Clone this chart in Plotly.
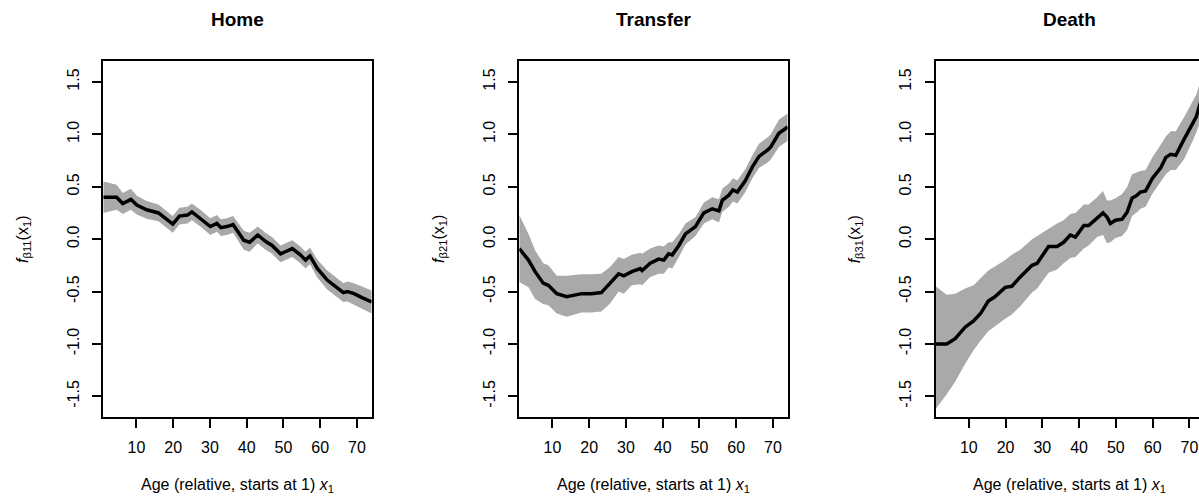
import plotly.graph_objects as go

# ---- data -------------------------------------------------------------
panel_titles = ["Home", "Transfer", "Death"]
y_labels = ["<i>f</i><sub>β11</sub>(x<sub>1</sub>)",
            "<i>f</i><sub>β21</sub>(x<sub>1</sub>)",
            "<i>f</i><sub>β31</sub>(x<sub>1</sub>)"]
x_title = "Age (relative, starts at 1) <i>x</i><sub>1</sub>"

x_tickvals = [10, 20, 30, 40, 50, 60, 70]
y_tickvals = [-1.5, -1.0, -0.5, 0.0, 0.5, 1.0, 1.5]
y_ticktext = ["-1.5", "-1.0", "-0.5", "0.0", "0.5", "1.0", "1.5"]

# Home
home_age = [1, 4.6, 6.3, 8.5, 10.1, 12.8, 16, 19.9, 21.7, 23.9, 25.1, 27.4,
            30.1, 31.9, 33, 34.6, 36.3, 39.2, 40.8, 43, 45.1, 46.9, 49.2,
            50.5, 52.4, 54.6, 56, 57.2, 59.2, 61.9, 64.2, 66.3, 67.4, 69.2,
            71.5, 74]
home_fit = [0.40, 0.40, 0.34, 0.38, 0.325, 0.28, 0.25, 0.143, 0.22, 0.23,
            0.26, 0.20, 0.12, 0.15, 0.11, 0.12, 0.14, -0.01, -0.03, 0.04,
            -0.02, -0.06, -0.14, -0.12, -0.09, -0.15, -0.20, -0.16, -0.28,
            -0.39, -0.455, -0.51, -0.50, -0.52, -0.56, -0.60]
home_lower = [0.25, 0.28, 0.24, 0.28, 0.235, 0.195, 0.17, 0.06, 0.14, 0.15,
              0.18, 0.12, 0.04, 0.07, 0.03, 0.04, 0.06, -0.10, -0.12, -0.04,
              -0.10, -0.14, -0.22, -0.20, -0.17, -0.23, -0.28, -0.24, -0.365,
              -0.48, -0.545, -0.60, -0.595, -0.62, -0.665, -0.71]
home_upper = [0.55, 0.52, 0.44, 0.48, 0.415, 0.365, 0.33, 0.22, 0.30, 0.31,
              0.34, 0.28, 0.20, 0.23, 0.19, 0.20, 0.22, 0.08, 0.06, 0.12,
              0.06, 0.02, -0.06, -0.04, -0.01, -0.07, -0.12, -0.08, -0.195,
              -0.30, -0.365, -0.42, -0.405, -0.42, -0.455, -0.49]

# Transfer
transfer_age = [1, 3.5, 5.3, 7.5, 8.9, 11.2, 13.9, 15.7, 18, 20.7, 23.3, 25.7,
                28, 29.4, 31.6, 33.9, 34.4, 36.6, 38.9, 40.3, 41.6, 42.6,
                44.4, 46.2, 48.9, 51.2, 53.5, 55.3, 56.2, 58, 59.1, 60.3,
                62.5, 64.4, 66.2, 68.5, 69.4, 71.6, 74]
transfer_fit = [-0.09, -0.20, -0.31, -0.42, -0.44, -0.52, -0.55, -0.535,
                -0.52, -0.52, -0.51, -0.42, -0.33, -0.35, -0.31, -0.28, -0.30,
                -0.23, -0.19, -0.20, -0.14, -0.15, -0.06, 0.05, 0.12, 0.25,
                0.29, 0.27, 0.37, 0.42, 0.47, 0.45, 0.56, 0.69, 0.79, 0.85,
                0.88, 1.01, 1.07]
transfer_lower = [-0.41, -0.46, -0.57, -0.62, -0.63, -0.71, -0.74, -0.72,
                  -0.70, -0.70, -0.69, -0.615, -0.50, -0.52, -0.44, -0.43,
                  -0.44, -0.36, -0.33, -0.33, -0.27, -0.28, -0.17, -0.05,
                  0.03, 0.15, 0.19, 0.16, 0.26, 0.31, 0.36, 0.34, 0.45, 0.58,
                  0.68, 0.73, 0.76, 0.88, 0.94]
transfer_upper = [0.23, 0.05, -0.105, -0.23, -0.25, -0.35, -0.35, -0.345,
                  -0.335, -0.335, -0.33, -0.265, -0.17, -0.19, -0.15, -0.13,
                  -0.14, -0.09, -0.06, -0.07, -0.03, -0.03, 0.05, 0.15, 0.21,
                  0.35, 0.40, 0.38, 0.48, 0.53, 0.58, 0.56, 0.67, 0.80, 0.91,
                  0.97, 1.00, 1.14, 1.20]

# Death
death_age = [1, 4, 6.3, 9, 11.3, 13.2, 15.3, 17.1, 19.9, 21.7, 24, 27.2,
             28.6, 31.7, 34, 35.8, 37.6, 39, 41.3, 42.6, 44.9, 46.5, 47.6,
             48.5, 49.9, 51.7, 53.1, 54.4, 55.8, 56.7, 58.1, 59.9, 62.2,
             63.6, 64.9, 66.3, 68.5, 70.8, 71.9, 72.8, 74]
death_fit = [-1.0, -1.0, -0.95, -0.84, -0.78, -0.71, -0.59, -0.55, -0.46,
             -0.45, -0.36, -0.25, -0.23, -0.07, -0.07, -0.03, 0.04, 0.02,
             0.13, 0.13, 0.20, 0.25, 0.21, 0.15, 0.18, 0.19, 0.26, 0.39, 0.42,
             0.45, 0.46, 0.58, 0.68, 0.78, 0.81, 0.80, 0.95, 1.09, 1.17, 1.28,
             1.42]
death_lower = [-1.62, -1.48, -1.36, -1.19, -1.06, -0.97, -0.88, -0.83, -0.76,
               -0.72, -0.64, -0.51, -0.47, -0.32, -0.29, -0.23, -0.18, -0.17,
               -0.09, -0.06, 0.02, 0.04, -0.04, -0.03, 0.01, 0.03, 0.09, 0.22,
               0.26, 0.29, 0.31, 0.43, 0.55, 0.62, 0.66, 0.66, 0.76, 0.93,
               1.02, 1.10, 1.22]
death_upper = [-0.45, -0.53, -0.52, -0.47, -0.44, -0.37, -0.30, -0.26, -0.20,
               -0.15, -0.10, 0.00, 0.03, 0.10, 0.15, 0.18, 0.24, 0.25, 0.33,
               0.33, 0.40, 0.46, 0.37, 0.37, 0.39, 0.43, 0.50, 0.62, 0.64,
               0.65, 0.66, 0.78, 0.90, 0.98, 1.03, 1.03, 1.16, 1.30, 1.38,
               1.49, 1.62]

panels = [
    (home_age, home_fit, home_lower, home_upper),
    (transfer_age, transfer_fit, transfer_lower, transfer_upper),
    (death_age, death_fit, death_lower, death_upper),
]

# ---- figure -----------------------------------------------------------
W, H = 1199, 497
FONT = "Liberation Sans, Arial, Helvetica, sans-serif"
BAND = "#a9a9a9"

# plot boxes in pixels (left, right); vertical extent shared
box_left = [103.3, 519.3, 935.7]
box_width = 268.4
box_top, box_bottom = 61.0, 417.3
x_range = [1, 74]
px_per_unit = box_width / (x_range[1] - x_range[0])

fig = go.Figure()

for i, (age, fit, lo, up) in enumerate(panels):
    n = i + 1
    xa = "x" if n == 1 else f"x{n}"
    ya = "y" if n == 1 else f"y{n}"
    fig.add_trace(go.Scatter(
        x=list(age) + list(age)[::-1],
        y=list(up) + list(lo)[::-1],
        fill="toself", fillcolor=BAND, line=dict(width=0),
        mode="lines", hoverinfo="skip", showlegend=False,
        xaxis=xa, yaxis=ya))
    fig.add_trace(go.Scatter(
        x=age, y=fit, mode="lines",
        line=dict(color="black", width=3.5),
        hoverinfo="skip", showlegend=False,
        xaxis=xa, yaxis=ya))

    left = box_left[i]
    right = min(left + box_width, W)
    xmax = x_range[0] + (right - left) / px_per_unit
    axis_common = dict(
        showline=True, linecolor="black", linewidth=2,
        ticks="outside", ticklen=9, tickwidth=2, tickcolor="black",
        showgrid=False, zeroline=False,
        tickfont=dict(family=FONT, size=16, color="black"),
    )
    xkey = "xaxis" if n == 1 else f"xaxis{n}"
    ykey = "yaxis" if n == 1 else f"yaxis{n}"
    fig.update_layout(**{
        xkey: dict(axis_common, domain=[left / W, right / W],
                   range=[x_range[0], xmax], tickvals=x_tickvals,
                   ticklabelstandoff=5,
                   mirror=True, anchor=ya),
        ykey: dict(axis_common, domain=[1 - box_bottom / H, 1 - box_top / H],
                   range=[-1.70, 1.70], tickvals=y_tickvals,
                   ticktext=y_ticktext, tickangle=-90,
                   ticklabelstandoff=7,
                   mirror=(right - left) >= box_width - 0.5, anchor=xa),
    })

    cx = (left + left + box_width) / 2
    # panel title
    fig.add_annotation(text=f"<b>{panel_titles[i]}</b>", xref="paper",
                       yref="paper", x=cx / W, y=1 - 19.5 / H,
                       xanchor="center", yanchor="middle", showarrow=False,
                       font=dict(family=FONT, size=19, color="black"))
    # x axis title
    fig.add_annotation(text=x_title, xref="paper", yref="paper",
                       x=cx / W, y=1 - 485.5 / H, xanchor="center",
                       yanchor="middle", showarrow=False,
                       font=dict(family=FONT, size=16, color="black"))
    # y axis title
    fig.add_annotation(text=y_labels[i], xref="paper", yref="paper",
                       x=(left - 80.5) / W,
                       y=1 - ((box_top + box_bottom) / 2) / H,
                       xanchor="center", yanchor="middle", textangle=-90,
                       showarrow=False,
                       font=dict(family=FONT, size=16, color="black"))

fig.update_layout(
    width=W, height=H, autosize=False,
    margin=dict(l=0, r=0, t=0, b=0),
    paper_bgcolor="white", plot_bgcolor="white",
    font=dict(family=FONT, color="black"),
)

fig.write_html("out.html", config={"displayModeBar": False})
